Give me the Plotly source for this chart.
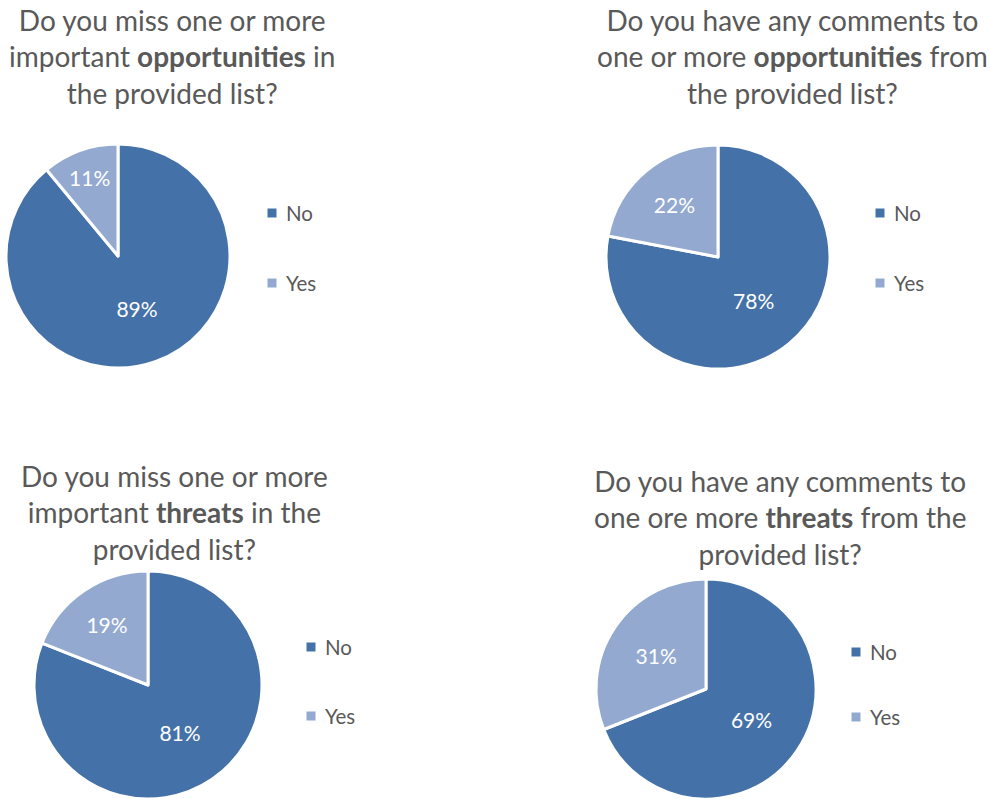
import plotly.graph_objects as go

# Survey answers (percent of respondents)
categories = ["No", "Yes"]
miss_opportunities = [89, 11]
comment_opportunities = [78, 22]
miss_threats = [81, 19]
comment_threats = [69, 31]

titles = [
    "Do you miss one or more<br>important <b>opportunities</b> in<br>the provided list?",
    "Do you have any comments to<br>one or more <b>opportunities</b> from<br>the provided list?",
    "Do you miss one or more<br>important <b>threats</b> in the<br>provided list?",
    "Do you have any comments to<br>one ore more <b>threats</b> from the<br>provided list?",
]

colors = ["#4472a8", "#93a9d0"]
W, H = 990, 799
FONT = "Lato"
TEXT_GREY = "#595959"

# panel layout in pixels: pie centre/radius, title centre, legend marker column
panels = [
    dict(values=miss_opportunities, cx=118, cy=256, r=112, tx=172, ty=56, lx=272, ly=(213, 283)),
    dict(values=comment_opportunities, cx=718, cy=257, r=112, tx=792, ty=56, lx=880, ly=(213, 283)),
    dict(values=miss_threats, cx=148, cy=685, r=114, tx=174, ty=512, lx=311, ly=(647, 716)),
    dict(values=comment_threats, cx=706, cy=689, r=110, tx=780, ty=517, lx=856, ly=(652, 717)),
]


def fx(x):
    return x / W


def fy(y):
    return 1 - y / H


fig = go.Figure()
annotations = []
shapes = []

for p, title in zip(panels, titles):
    x0 = max(0.0, fx(p["cx"] - p["r"]))
    x1 = min(1.0, fx(p["cx"] + p["r"]))
    y0 = max(0.0, fy(p["cy"] + p["r"]))
    y1 = min(1.0, fy(p["cy"] - p["r"]))
    fig.add_trace(go.Pie(
        labels=categories,
        values=p["values"],
        sort=False,
        direction="clockwise",
        rotation=0,
        domain=dict(x=[x0, x1], y=[y0, y1]),
        marker=dict(colors=colors, line=dict(color="white", width=3)),
        texttemplate="%{percent:.0%}",
        textposition="inside",
        insidetextorientation="horizontal",
        textfont=dict(family=FONT, size=21, color="white"),
        showlegend=False,
        hoverinfo="label+percent",
    ))

    annotations.append(dict(
        x=fx(p["tx"]), y=fy(p["ty"]), xref="paper", yref="paper",
        text=title, showarrow=False, align="center",
        xanchor="center", yanchor="middle",
        font=dict(family=FONT, size=28, color=TEXT_GREY),
    ))

    # legend: colour square + category name
    for cat, col, ly in zip(categories, colors, p["ly"]):
        s = 4.5
        shapes.append(dict(
            type="rect", xref="paper", yref="paper",
            x0=fx(p["lx"] - s), x1=fx(p["lx"] + s),
            y0=fy(ly + s), y1=fy(ly - s),
            fillcolor=col, line=dict(width=0),
        ))
        annotations.append(dict(
            x=fx(p["lx"] + 12), y=fy(ly), xref="paper", yref="paper",
            text=cat, showarrow=False, xanchor="left", yanchor="middle",
            font=dict(family=FONT, size=20.5, color=TEXT_GREY),
        ))

fig.update_layout(
    width=W, height=H,
    margin=dict(l=0, r=0, t=0, b=0),
    paper_bgcolor="white",
    plot_bgcolor="white",
    annotations=annotations,
    shapes=shapes,
)

fig.write_html("out.html")
